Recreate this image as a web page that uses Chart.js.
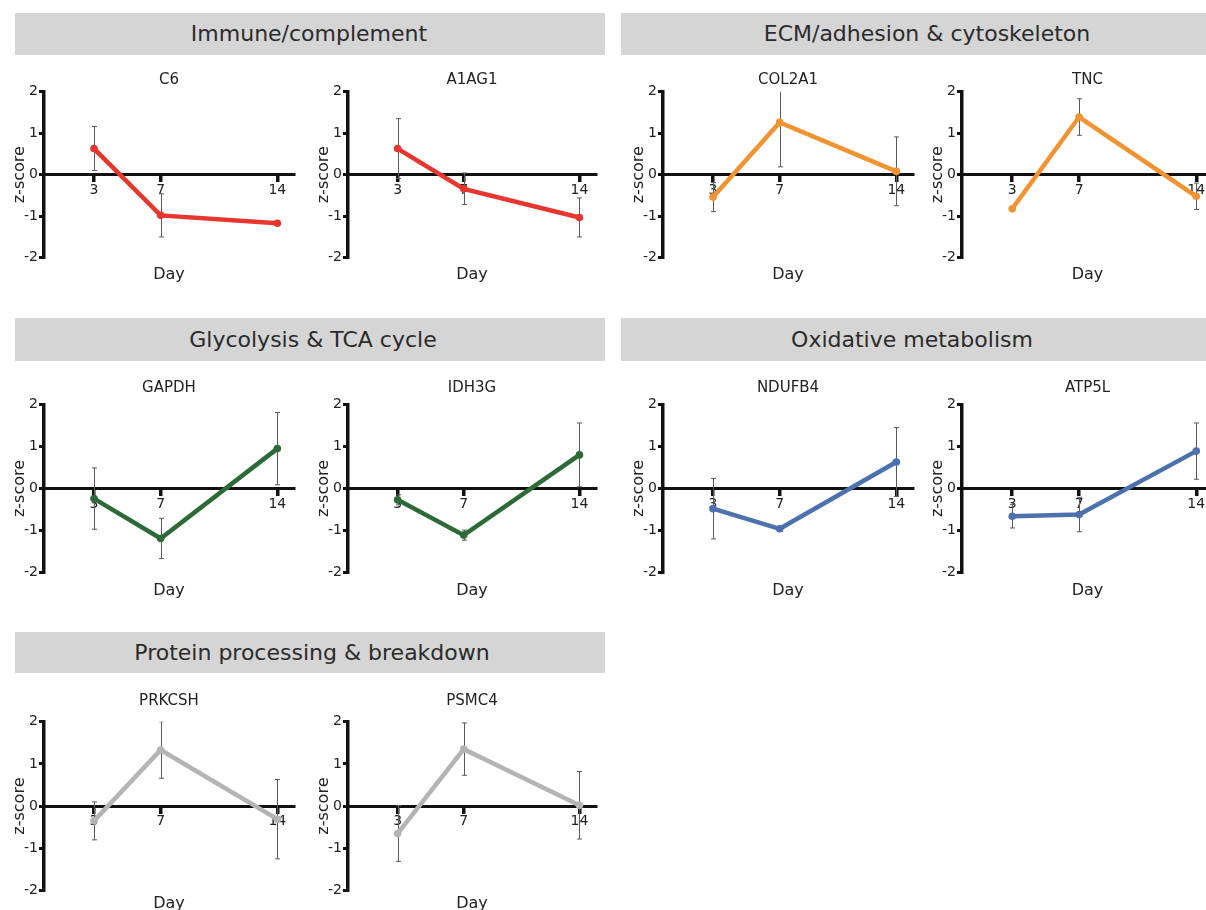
<!DOCTYPE html>
<html>
<head>
<meta charset="utf-8">
<script src="https://cdn.jsdelivr.net/npm/chart.js@4.4.1/dist/chart.umd.min.js"></script>
<style>
  html, body { margin: 0; padding: 0; background: #fff; }
  body { width: 1206px; height: 910px; overflow: hidden; position: relative;
         font-family: 'DejaVu Sans', Verdana, sans-serif; }
  .band { position: absolute; background: #d5d5d5; }
  .band span { position: absolute; top: 50%; transform: translate(-50%, -52%);
               white-space: nowrap; font-size: 22px; color: #2b2b2b; }
  canvas { position: absolute; }
</style>
</head>
<body>
<script>
// Sampling days and axis ticks
const days = [3, 7, 14];
const dayTicks = [3, 7, 14];
const zRange = [-2, 2];

// Functional groups
const groupNames = [
  'Immune/complement',
  'ECM/adhesion & cytoskeleton',
  'Glycolysis & TCA cycle',
  'Oxidative metabolism',
  'Protein processing & breakdown'
];

// Protein names
const proteinNames = ['C6', 'A1AG1', 'COL2A1', 'TNC', 'GAPDH', 'IDH3G', 'NDUFB4', 'ATP5L', 'PRKCSH', 'PSMC4'];

// Mean z-scores per day (3, 7, 14) and their standard deviations
const c6Mean     = [0.63, -0.98, -1.17];
const c6Sd       = [0.53, 0.52, 0.03];
const a1ag1Mean  = [0.63, -0.34, -1.03];
const a1ag1Sd    = [0.72, 0.38, 0.47];
const col2a1Mean = [-0.54, 1.26, 0.08];
const col2a1Sd   = [0.35, 1.07, 0.83];
const tncMean    = [-0.82, 1.39, -0.52];
const tncSd      = [0.03, 0.44, 0.32];
const gapdhMean  = [-0.24, -1.19, 0.95];
const gapdhSd    = [0.73, 0.48, 0.86];
const idh3gMean  = [-0.27, -1.11, 0.80];
const idh3gSd    = [0.12, 0.12, 0.76];
const ndufb4Mean = [-0.48, -0.96, 0.63];
const ndufb4Sd   = [0.72, 0.06, 0.82];
const atp5lMean  = [-0.66, -0.62, 0.89];
const atp5lSd    = [0.28, 0.41, 0.67];
const prkcshMean = [-0.35, 1.33, -0.31];
const prkcshSd   = [0.45, 0.67, 0.94];
const psmc4Mean  = [-0.65, 1.35, 0.02];
const psmc4Sd    = [0.66, 0.62, 0.80];

// Group colours
const red = '#e8352d', orange = '#f29231', green = '#2c6a37', blue = '#4b71ae', grey = '#b4b4b4';

// Page layout: group header bands
const bands = [
  { name: groupNames[0], x: 15,  y: 13,  w: 590, h: 42, cx: 309 },
  { name: groupNames[1], x: 621, y: 13,  w: 620, h: 42, cx: 927 },
  { name: groupNames[2], x: 15,  y: 318, w: 590, h: 43, cx: 313 },
  { name: groupNames[3], x: 621, y: 318, w: 620, h: 43, cx: 912 },
  { name: groupNames[4], x: 15,  y: 632, w: 590, h: 41, cx: 312 }
];

// Page layout: plot frames (y-axis pixel, right edge, top/bottom of the z range, title and x-title centres)
const rows = [
  { yTop: 91.7,  yBottom: 257.7, titleY: 80,  dayY: 275 },
  { yTop: 404.5, yBottom: 572.5, titleY: 388, dayY: 591 },
  { yTop: 721.7, yBottom: 890.5, titleY: 701, dayY: 904 }
];
const cols = [
  { axisX: 44,  xRight: 296 },
  { axisX: 348, xRight: 598 },
  { axisX: 663, xRight: 915 },
  { axisX: 962, xRight: 1215 }
];

const panels = [
  { name: proteinNames[0], mean: c6Mean,     sd: c6Sd,     color: red,    row: 0, col: 0 },
  { name: proteinNames[1], mean: a1ag1Mean,  sd: a1ag1Sd,  color: red,    row: 0, col: 1 },
  { name: proteinNames[2], mean: col2a1Mean, sd: col2a1Sd, color: orange, row: 0, col: 2 },
  { name: proteinNames[3], mean: tncMean,    sd: tncSd,    color: orange, row: 0, col: 3 },
  { name: proteinNames[4], mean: gapdhMean,  sd: gapdhSd,  color: green,  row: 1, col: 0 },
  { name: proteinNames[5], mean: idh3gMean,  sd: idh3gSd,  color: green,  row: 1, col: 1 },
  { name: proteinNames[6], mean: ndufb4Mean, sd: ndufb4Sd, color: blue,   row: 1, col: 2 },
  { name: proteinNames[7], mean: atp5lMean,  sd: atp5lSd,  color: blue,   row: 1, col: 3 },
  { name: proteinNames[8], mean: prkcshMean, sd: prkcshSd, color: grey,   row: 2, col: 0 },
  { name: proteinNames[9], mean: psmc4Mean,  sd: psmc4Sd,  color: grey,   row: 2, col: 1 }
];

// Header bands
bands.forEach(b => {
  const d = document.createElement('div');
  d.className = 'band';
  d.style.left = b.x + 'px'; d.style.top = b.y + 'px';
  d.style.width = b.w + 'px'; d.style.height = b.h + 'px';
  const s = document.createElement('span');
  s.textContent = b.name;
  s.style.left = (b.cx - b.x) + 'px';
  d.appendChild(s);
  document.body.appendChild(d);
});

Chart.defaults.font.family = "'DejaVu Sans', Verdana, sans-serif";
Chart.defaults.color = '#222';

// Mean ± SD whiskers, drawn beneath the line through the chart's own scales
const errorBars = {
  id: 'errorBars',
  beforeDatasetsDraw(chart, args, opts) {
    const { ctx, chartArea, scales: { x, y } } = chart;
    ctx.save();
    ctx.beginPath();
    ctx.rect(chartArea.left, chartArea.top, chartArea.right - chartArea.left, chartArea.bottom - chartArea.top + 40);
    ctx.clip();
    ctx.strokeStyle = '#5a5a5a';
    ctx.lineWidth = 1;
    opts.mean.forEach((m, i) => {
      const px = Math.round(x.getPixelForValue(days[i])) + 0.5;
      const hi = y.getPixelForValue(m + opts.sd[i]);
      const lo = y.getPixelForValue(m - opts.sd[i]);
      ctx.beginPath();
      ctx.moveTo(px, hi); ctx.lineTo(px, lo);
      ctx.moveTo(px - 2.5, hi); ctx.lineTo(px + 2.5, hi);
      ctx.moveTo(px - 2.5, lo); ctx.lineTo(px + 2.5, lo);
      ctx.stroke();
    });
    ctx.restore();
  }
};

const TITLE_FONT = 15, DAY_FONT = 16;

panels.forEach(p => {
  const r = rows[p.row], c = cols[p.col];
  const yAxisWidth = 44;
  const tLH = TITLE_FONT * 1.2, dLH = DAY_FONT * 1.2;
  const left = c.axisX - yAxisWidth;
  const top = Math.floor(r.titleY - tLH / 2 - 2);
  const tPadTop = r.titleY - tLH / 2 - top;
  const tPadBottom = r.yTop - (r.titleY + tLH / 2);
  const dPadTop = r.dayY - dLH / 2 - r.yBottom;
  const bottomEdge = Math.ceil(r.dayY + dLH / 2 + 2);
  const dPadBottom = bottomEdge - (r.dayY + dLH / 2);
  const width = Math.round(c.xRight - left + 2);
  const height = bottomEdge - top;

  const cv = document.createElement('canvas');
  cv.width = width; cv.height = height;
  cv.style.left = left + 'px'; cv.style.top = top + 'px';
  cv.style.width = width + 'px'; cv.style.height = height + 'px';
  document.body.appendChild(cv);

  new Chart(cv, {
    type: 'line',
    data: {
      datasets: [{
        data: days.map((d, i) => ({ x: d, y: p.mean[i] })),
        borderColor: p.color,
        backgroundColor: p.color,
        borderWidth: 4.5,
        pointRadius: 3.8,
        pointBorderWidth: 0,
        pointBackgroundColor: p.color,
        tension: 0,
        fill: false
      }]
    },
    options: {
      responsive: false,
      animation: false,
      devicePixelRatio: 1,
      events: [],
      layout: { padding: { left: 0, right: 2, top: 0, bottom: 0 } },
      plugins: {
        legend: { display: false },
        tooltip: { enabled: false },
        title: {
          display: true, text: p.name, color: '#222', fullSize: false,
          font: { size: TITLE_FONT, weight: 'normal' },
          padding: { top: tPadTop, bottom: tPadBottom }
        },
        subtitle: {
          display: true, text: 'Day', position: 'bottom', color: '#222', fullSize: false,
          font: { size: DAY_FONT, weight: 'normal' },
          padding: { top: dPadTop, bottom: dPadBottom }
        },
        errorBars: { mean: p.mean, sd: p.sd }
      },
      scales: {
        x: {
          type: 'linear',
          min: 0, max: 15,
          position: { y: 0 },
          afterBuildTicks: s => { s.ticks = dayTicks.map(v => ({ value: v })); },
          ticks: { color: '#222', font: { size: 14 }, padding: 1, maxRotation: 0, autoSkip: false },
          grid: { drawOnChartArea: false, drawTicks: true, tickLength: 6, lineWidth: 3.5, color: '#111' },
          border: { display: true, width: 3, color: '#111' }
        },
        y: {
          type: 'linear',
          min: zRange[0], max: zRange[1],
          position: 'left',
          afterFit: s => { s.width = yAxisWidth; },
          ticks: { stepSize: 1, color: '#222', font: { size: 14 }, padding: 1 },
          grid: { drawOnChartArea: false, drawTicks: true, tickLength: 5, lineWidth: 3, color: '#111' },
          border: { display: true, width: 3.5, color: '#111' },
          title: { display: true, text: 'z-score', color: '#222', font: { size: 16 }, padding: { top: 10, bottom: 0 } }
        }
      }
    },
    plugins: [errorBars]
  });
});
</script>
</body>
</html>
